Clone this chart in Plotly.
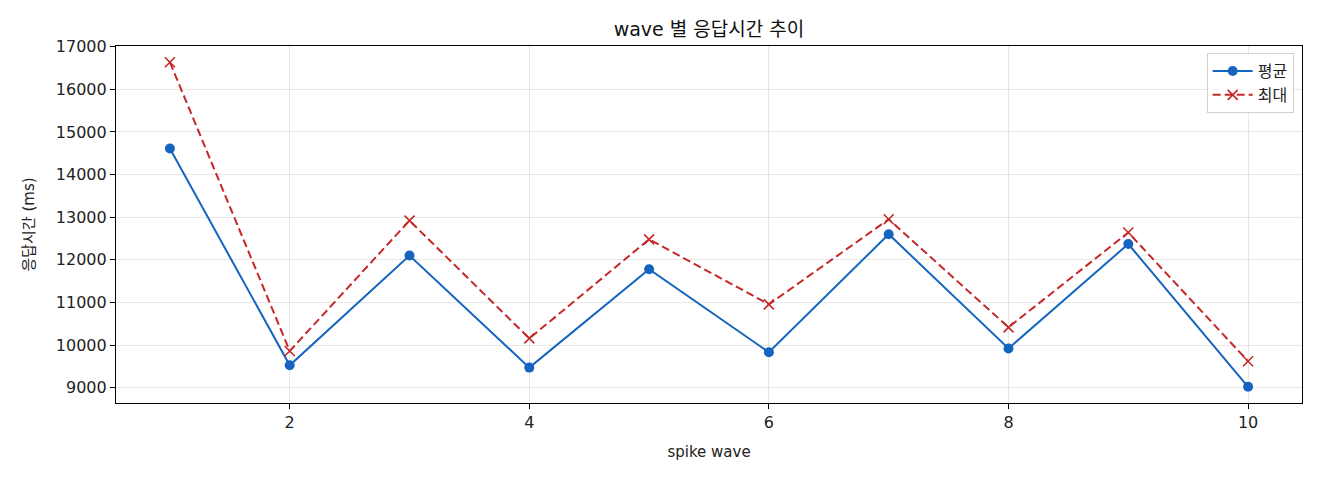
import plotly.graph_objects as go

# spike wave 번호
waves = [1, 2, 3, 4, 5, 6, 7, 8, 9, 10]
# 응답시간 (ms)
avg_ms = [14610, 9525, 12100, 9470, 11780, 9830, 12600, 9920, 12370, 9020]
max_ms = [16635, 9860, 12920, 10155, 12480, 10955, 12950, 10415, 12640, 9620]

font = "DejaVu Sans, Noto Sans CJK KR"

fig = go.Figure()
fig.add_trace(go.Scatter(x=waves, y=avg_ms, mode='lines+markers', name='평균',
                         line=dict(color='#1565C0', width=2),
                         marker=dict(symbol='circle', size=10, color='#1565C0')))
fig.add_trace(go.Scatter(x=waves, y=max_ms, mode='lines+markers', name='최대',
                         line=dict(color='#C62828', width=2, dash='8px,4px'),
                         marker=dict(symbol='x-thin', size=10,
                                     line=dict(color='#C62828', width=1.6))))

axis_style = dict(showline=True, linecolor='black', linewidth=1.2, mirror=True,
                  ticks='outside', ticklen=5, tickcolor='black',
                  showgrid=True, gridcolor='rgba(0,0,0,0.09)', gridwidth=1,
                  zeroline=False, tickfont=dict(size=16, color='#222'))

fig.update_layout(
    width=1320, height=480,
    margin=dict(l=108, r=26, t=38, b=85),
    paper_bgcolor='white', plot_bgcolor='white',
    font=dict(family=font, color='#222'),
    title=dict(text='wave 별 응답시간 추이', x=0.5, xref='paper', xanchor='center',
               y=1, yref='paper', yanchor='bottom', pad=dict(b=10),
               font=dict(size=19, color='#111')),
    legend=dict(x=0.993, y=0.98, xanchor='right', yanchor='top',
                bgcolor='rgba(255,255,255,0.8)', bordercolor='#d0d0d0', borderwidth=1,
                font=dict(size=16), itemwidth=40),
    showlegend=True,
)
fig.update_xaxes(axis_style, range=[0.55, 10.45], tickvals=[2, 4, 6, 8, 10],
                 title=dict(text='spike wave', font=dict(size=15), standoff=15))
fig.update_yaxes(axis_style, range=[8640, 17016], dtick=1000, tick0=9000, tickformat='d',
                 title=dict(text='응답시간 (ms)', font=dict(size=15), standoff=17))

fig.write_html("out.html")
